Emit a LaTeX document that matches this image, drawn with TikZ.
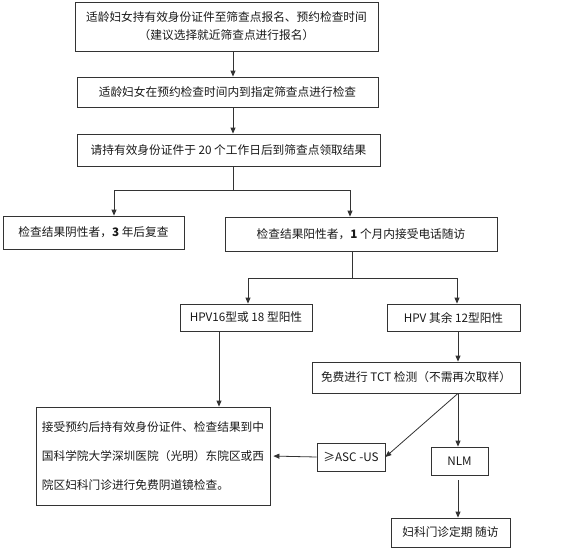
\documentclass[tikz,border=0pt]{standalone}
\usepackage{fontspec}
\setmainfont{Noto Sans CJK SC}
\usetikzlibrary{arrows.meta}
\begin{document}
\begin{tikzpicture}[x=1pt,y=-1pt,
  box/.style={draw=black!80,line width=0.8pt,inner sep=0pt,align=center,
    font=\fontsize{11.7}{18}\selectfont,text=black!90},
  ln/.style={draw=black!80,line width=0.8pt},
  arr/.style={ln,-{Triangle[length=6pt,width=5pt]}}]
\useasboundingbox (0,0) rectangle (579,552);
\node[box,minimum width=303pt,minimum height=49pt] (b1) at (226.5,26.5)
  {适龄妇女持有效身份证件至筛查点报名、预约检查时间\\（建议选择就近筛查点进行报名）};
\node[box,minimum width=301pt,minimum height=30pt] (b2) at (227.5,92)
  {适龄妇女在预约检查时间内到指定筛查点进行检查};
\node[box,minimum width=303pt,minimum height=32pt] (b3) at (228.5,150)
  {请持有效身份证件于 20 个工作日后到筛查点领取结果};
\node[box,minimum width=181pt,minimum height=33pt] (b4) at (93.5,232.5)
  {检查结果阴性者，\textbf{3} 年后复查};
\node[box,minimum width=272pt,minimum height=34pt] (b5) at (361,234)
  {检查结果阳性者，\textbf{1} 个月内接受电话随访};
\node[box,minimum width=132pt,minimum height=27pt] (b6) at (246,317.5)
  {HPV16型或 18 型阳性};
\node[box,minimum width=133pt,minimum height=27pt] (b7) at (453.5,317.5)
  {HPV 其余 12型阳性};
\node[box,minimum width=234pt,minimum height=98pt,align=left,
  font=\fontsize{11.7}{29}\selectfont] (b8) at (153,456)
  {接受预约后持有效身份证件、检查结果到中\\国科学院大学深圳医院（光明）东院区或西\\院区妇科门诊进行免费阴道镜检查。};
\node[box,minimum width=208pt,minimum height=31pt] (b9) at (416,377.5)
  {免费进行 TCT 检测（不需再次取样）};
\node[box,minimum width=68pt,minimum height=28pt] (b10) at (351,457)
  {≥ASC -US};
\node[box,minimum width=57pt,minimum height=28pt] (b11) at (459.5,461)
  {NLM};
\node[box,minimum width=119pt,minimum height=29pt] (b12) at (450.5,532.5)
  {妇科门诊定期 随访};
\coordinate (x1) at (233,0);
\coordinate (j1) at (233,190);
\coordinate (l1) at (114,190);
\coordinate (r1) at (350,190);
\coordinate (x2) at (352,0);
\coordinate (j2) at (352,278);
\coordinate (l2) at (248,278);
\coordinate (r2) at (457,278);
\coordinate (x3) at (219,0);
\coordinate (x4) at (458,0);
\draw[arr] (b1.south -| x1) -- (b2.north -| x1);
\draw[arr] (b2.south -| x1) -- (b3.north -| x1);
\draw[ln] (b3.south -| x1) -- (j1);
\draw[ln] (l1) -- (r1);
\draw[arr] (l1) -- (b4.north -| l1);
\draw[arr] (r1) -- (b5.north -| r1);
\draw[ln] (b5.south -| x2) -- (j2);
\draw[ln] (l2) -- (r2);
\draw[arr] (l2) -- (b6.north -| l2);
\draw[arr] (r2) -- (b7.north -| r2);
\draw[arr] (b6.south -| x3) -- (b8.north -| x3);
\draw[arr] (b7.south -| x4) -- (b9.north -| x4);
\draw[arr] (b9.south -| x4) -- (b10.east);
\draw[arr] (b9.south -| x4) -- (b11.north -| x4);
\draw[arr,shorten >=3pt] (b10.west) -- (b8.east);
\draw[arr,shorten <=5pt] (b11.south -| x4) -- (b12.north -| x4);
\end{tikzpicture}
\end{document}
